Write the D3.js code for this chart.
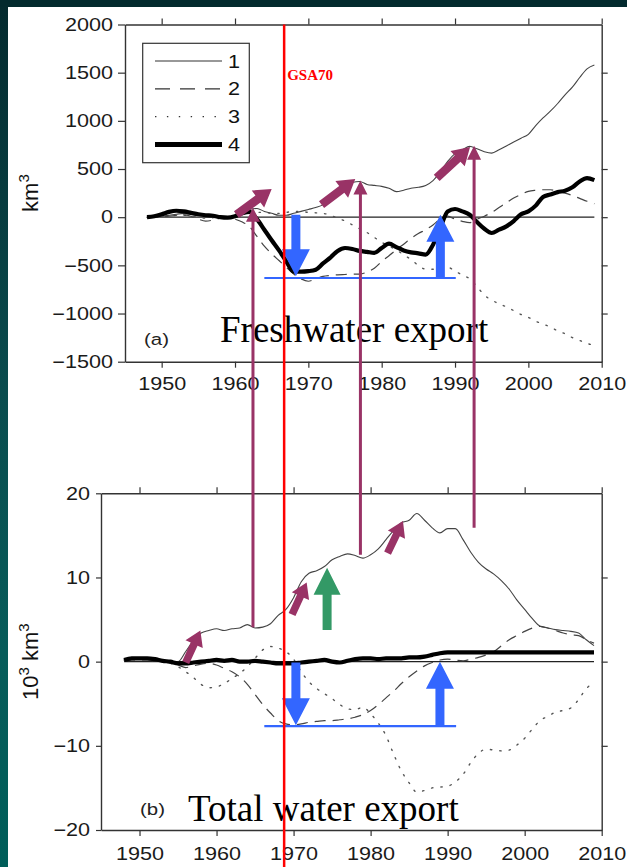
<!DOCTYPE html>
<html>
<head>
<meta charset="utf-8">
<script src="https://cdn.jsdelivr.net/npm/d3@7"></script>
<style>
html, body { margin: 0; padding: 0; background: #fff; }
svg { display: block; }
</style>
</head>
<body>
<div id="chart"></div>
<script>
// ---- data ----
const years = [1948,1949,1950,1951,1952,1953,1954,1955,1956,1957,
  1958,1959,1960,1961,1962,1963,1964,1965,1966,1967,
  1968,1969,1970,1971,1972,1973,1974,1975,1976,1977,
  1978,1979,1980,1981,1982,1983,1984,1985,1986,1987,
  1988,1989,1990,1991,1992,1993,1994,1995,1996,1997,
  1998,1999,2000,2001,2002,2003,2004,2005,2006,2007,
  2008,2009];

// (a) freshwater export, km3
const fw1 = [0,5,10,20,30,40,30,20,25,20, 10,0,0,30,80,90,60,40,20,20,
  40,60,80,100,130,200,270,320,360,370, 340,330,320,300,265,280,300,310,330,380,
  470,580,660,700,735,710,680,665,700,740, 780,820,860,950,1030,1100,1180,1270,1350,1450,
  1540,1580];
const fw2 = [0,0,5,10,20,25,10,-20,-40,-30, -10,0,-20,-50,-100,-200,-300,-380,-450,-520,
  -590,-640,-665,-640,-615,-605,-598,-595,-592,-590, -570,-530,-460,-400,-337,-280,-220,-170,-130,-80,
  -20,10,-20,-43,-57,-20,10,50,100,150, 199,235,268,280,285,285,270,250,225,195,
  165,140];
const fw3 = [0,0,5,10,20,20,10,0,-10,-5, 0,0,10,30,40,50,50,40,40,50,
  60,60,50,45,40,20,-10,-40,-80,-120, -160,-210,-260,-300,-340,-390,-440,-500,-540,-540,
  -520,-520,-560,-600,-640,-720,-810,-860,-900,-930, -970,-1010,-1040,-1080,-1110,-1140,-1180,-1210,-1250,-1280,
  -1310,-1330];
const fw4 = [0,10,30,55,67,60,45,30,20,15, 0,-5,10,40,55,-20,-130,-240,-345,-460,
  -565,-565,-560,-545,-480,-420,-350,-320,-330,-350, -360,-370,-320,-275,-310,-345,-365,-375,-388,-285,
  -110,60,85,60,26,-50,-120,-164,-130,-95, -40,30,60,120,210,235,260,275,310,370,
  405,385];

// (b) total water export, 10^3 km3
const tw1 = [0.2,0.3,0.4,0.4,0.3,0.2,0,0,1.2,2.5, 3.4,3.7,3.9,3.7,3.9,4.0,4.4,4.0,4.1,4.5,
  5.5,6.2,7.6,9.5,10.5,10.8,11.3,12.1,12.5,12.8, 12.6,12.3,12.7,13.4,14.5,15.6,16.5,16.8,17.6,16.8,
  15.9,15.3,15.8,15.8,14.5,13.0,11.8,11.0,10.4,9.6, 8.6,7.3,6.2,5.1,4.2,4.0,3.8,3.7,3.6,3.4,
  2.6,1.9];
const tw2 = [0.1,0.2,0.2,0.2,0.1,0,-0.2,-0.4,-0.7,-0.5, -0.3,-0.2,-0.4,-0.8,-1.2,-1.8,-2.7,-3.9,-5.1,-6.1,
  -7.0,-7.4,-7.5,-7.4,-7.2,-7.1,-7.0,-7.0,-6.9,-6.8, -6.6,-6.3,-5.8,-5.1,-4.3,-3.5,-2.6,-1.8,-1.1,-0.5,
  -0.1,0.2,0.3,0.2,0.1,0.3,0.5,0.8,1.2,1.9, 2.6,3.1,3.6,4.0,4.2,4.0,3.7,3.4,3.2,3.1,
  2.6,2.2];
const tw3 = [0.2,0.3,0.3,0.3,0.2,0.1,-0.2,-0.6,-1.2,-1.9, -2.7,-3.1,-3.0,-2.6,-2.0,-1.4,-0.6,0.4,1.4,1.8,
  1.6,1.2,0.3,-1.2,-2.4,-3.2,-3.8,-4.4,-5.1,-5.6, -5.7,-5.4,-6.2,-7.3,-8.8,-11.0,-13.0,-14.4,-15.5,-15.3,
  -15.0,-14.9,-14.8,-14.3,-13.4,-12.0,-10.9,-10.4,-10.5,-10.6, -10.5,-9.9,-9.1,-8.0,-7.0,-6.5,-6.0,-5.8,-5.5,-4.5,
  -3.2,-2.5];
const tw4 = [0.2,0.4,0.4,0.4,0.3,0.1,0.0,-0.2,-0.2,-0.1, 0.0,0.1,0.2,0.1,0.2,0.0,0.0,0.1,0.0,-0.1,
  -0.2,-0.2,-0.2,-0.1,0.0,0.1,0.2,0.0,-0.1,0.1, 0.3,0.4,0.4,0.3,0.4,0.4,0.4,0.5,0.5,0.6,
  0.8,1.0,1.1,1.1,1.1,1.1,1.1,1.1,1.1,1.1, 1.1,1.1,1.1,1.1,1.1,1.1,1.1,1.1,1.1,1.1,
  1.1,1.1];

const legendKeys = ["1", "2", "3", "4"];
const xTicks = [1950, 1960, 1970, 1980, 1990, 2000, 2010];
const yTicksA = [2000, 1500, 1000, 500, 0, -500, -1000, -1500];
const yRightA = [1500, 1000, 500, 0, -500, -1000];
const yTicksB = [20, 10, 0, -10, -20];
const yRightB = [10, 0, -10];

// annotations (positions in panel data units)
const gsaYear = 1966.7;
const links = [ // purple verticals: year on (a), tip on (a), foot on (b)
  {year: 1962.45, tip: 99, foot: 4.1},
  {year: 1977.1, tip: 382, foot: 12.7},
  {year: 1992.6, tip: 742, foot: 15.9}
];
const purpleA = [
  {from: [1960.2, 26], to: [1965.0, 293]},
  {from: [1971.8, 130], to: [1976.4, 396]},
  {from: [1987.5, 407], to: [1992.05, 728]}
];
const purpleB = [
  {from: [1956.0, -0.1], to: [1957.9, 3.7]},
  {from: [1969.8, 5.6], to: [1971.7, 9.4]},
  {from: [1982.2, 12.9], to: [1984.2, 16.7]}
];
const greenB = {from: [1974.35, 3.75], to: [1974.35, 11.15]};
const blueA = {down: {year: 1968.3, from: 26, to: -614}, base: {from: 1964.0, to: 1990.1, v: -631}, up: {year: 1988.0, to: 26}};
const blueB = {down: {year: 1970.3, from: -0.1, to: -7.56}, base: {from: 1966.2, to: 1991.1, v: -7.67}, up: {year: 1989.0, to: 0.0}};

// ---- layout ----
const width = 627, height = 867;
const sans = "'Liberation Sans', Arial, Helvetica, sans-serif";
const serif = "'Liberation Serif', 'Times New Roman', serif";
const stretch = 1.2; // the figure's sans text is horizontally stretched
const purple = "#993366", blue = "#3366ff", green = "#339966", red = "#ff0000";

const svg = d3.select("#chart").append("svg")
  .attr("width", width).attr("height", height)
  .style("font-family", sans);

// slide background
const grad = svg.append("defs").append("linearGradient")
  .attr("id", "side").attr("x1", 0).attr("y1", 0).attr("x2", 0).attr("y2", 1);
grad.append("stop").attr("offset", 0).attr("stop-color", "#042a2e");
grad.append("stop").attr("offset", 0.45).attr("stop-color", "#0a4c4e");
grad.append("stop").attr("offset", 0.75).attr("stop-color", "#075c5a");
grad.append("stop").attr("offset", 1).attr("stop-color", "#005e5a");
svg.append("rect").attr("width", width).attr("height", height).attr("fill", "url(#side)");
svg.append("rect").attr("width", width).attr("height", 7).attr("fill", "#032a2e");
svg.append("rect").attr("x", 8).attr("y", 7).attr("width", width - 8).attr("height", height - 7).attr("fill", "#fff");

// scales
const xA = d3.scaleLinear().domain([1945, 2010]).range([125, 601.7]);
const yA = d3.scaleLinear().domain([-1500, 2000]).range([361.7, 24.5]);
const xB = d3.scaleLinear().domain([1945, 2010]).range([101, 601.7]);
const yB = d3.scaleLinear().domain([-20, 20]).range([830, 493.3]);

const styles = [
  {stroke: "#444", width: 1.1, dash: null},
  {stroke: "#444", width: 1.2, dash: "11,7"},
  {stroke: "#555", width: 1.4, dash: "1.4,8"},
  {stroke: "#000", width: 4.2, dash: null}
];

function styleAxis(g) {
  g.attr("font-size", null).attr("font-family", null);
  g.select(".domain").attr("stroke", "#333").attr("stroke-width", 1.4);
  g.selectAll(".tick line").attr("stroke", "#333").attr("stroke-width", 1.2);
  g.selectAll(".tick text").attr("fill", "#1a1a1a").style("font-size", "18px");
}

function drawPanel(x, y, series, opt) {
  const g = svg.append("g");
  const [x0, x1] = x.range();
  const [yb, yt] = y.range();

  // axes (frame)
  g.append("g").attr("transform", `translate(0,${yb})`)
    .call(d3.axisBottom(x).tickValues(xTicks).tickFormat(d3.format("d")).tickSize(6).tickSizeOuter(0))
    .call(styleAxis)
    .call(a => a.selectAll(".tick text").attr("y", opt.xLabelGap).attr("transform", `scale(${stretch},1)`));
  g.append("g").attr("transform", `translate(0,${yt})`)
    .call(d3.axisTop(x).tickValues(xTicks).tickFormat("").tickSize(6).tickSizeOuter(0))
    .call(styleAxis);
  g.append("g").attr("transform", `translate(${x0},0)`)
    .call(d3.axisLeft(y).tickValues(opt.yTicks).tickFormat(d => d < 0 ? "\u2212" + Math.abs(d) : d)
      .tickSize(opt.yTick).tickSizeOuter(0))
    .call(styleAxis)
    .call(a => a.selectAll(".tick text").attr("x", -opt.yLabelGap / stretch).attr("transform", `scale(${stretch},1)`));
  g.append("g").attr("transform", `translate(${x1},0)`)
    .call(d3.axisRight(y).tickValues(opt.yRight).tickFormat("").tickSize(6).tickSizeOuter(0))
    .call(styleAxis);

  // zero line
  g.append("line")
    .attr("x1", x(years[0])).attr("x2", x(years[years.length - 1]))
    .attr("y1", y(0)).attr("y2", y(0))
    .attr("stroke", "#222").attr("stroke-width", 1.2);

  const line = d3.line().x((d, i) => x(years[i])).y(d => y(d)).curve(d3.curveMonotoneX);
  [2, 1, 0, 3].forEach(k => {
    g.append("path")
      .attr("d", line(series[k]))
      .attr("fill", "none")
      .attr("stroke", styles[k].stroke)
      .attr("stroke-width", styles[k].width)
      .attr("stroke-dasharray", styles[k].dash)
      .attr("stroke-linejoin", "round")
      .attr("stroke-linecap", k === 2 ? "round" : "butt");
  });

  // panel letter
  g.append("text")
    .attr("transform", `translate(${x0 + opt.letterDx},${yb - opt.letterDy}) scale(${stretch},1)`)
    .attr("fill", "#222").style("font-size", "17px")
    .text(opt.letter);

  // title
  g.append("text")
    .attr("x", x0 + opt.titleDx).attr("y", yb - opt.titleDy)
    .style("font-family", serif).style("font-size", "37px").attr("fill", "#000")
    .text(opt.title);

  // y label
  const lab = g.append("text")
    .attr("transform", `translate(38,${(yt + yb) / 2}) rotate(-90)`)
    .attr("text-anchor", "middle").attr("fill", "#111").style("font-size", "22px");
  opt.yLabel.forEach(p => {
    lab.append("tspan").attr("dy", p.sup ? -9 : (p.after ? 9 : 0))
      .style("font-size", p.sup ? "15px" : "22px").text(p.t);
  });
  return g;
}

drawPanel(xA, yA, [fw1, fw2, fw3, fw4], {
  yTicks: yTicksA, yRight: yRightA, yTick: 7, yLabelGap: 12, xLabelGap: 16,
  letter: "(a)", letterDx: 19, letterDy: 17,
  title: "Freshwater export", titleDx: 95, titleDy: 20,
  yLabel: [{t: "km"}, {t: "3", sup: true}]
});
drawPanel(xB, yB, [tw1, tw2, tw3, tw4], {
  yTicks: yTicksB, yRight: yRightB, yTick: 5, yLabelGap: 11, xLabelGap: 17,
  letter: "(b)", letterDx: 39, letterDy: 15,
  title: "Total water export", titleDx: 87, titleDy: 9,
  yLabel: [{t: "10"}, {t: "3", sup: true}, {t: " km", after: true}, {t: "3", sup: true}]
});

// legend
const leg = svg.append("g").attr("transform", `translate(${xA.range()[0] + 17.7},${yA.range()[1] + 18.8})`);
leg.append("rect").attr("width", 106.6).attr("height", 119.4)
  .attr("fill", "#fff").attr("stroke", "#333").attr("stroke-width", 1.2);
legendKeys.forEach((k, i) => {
  const yy = 17.7 + i * 27.8;
  leg.append("line").attr("x1", 12.3).attr("x2", 79.3).attr("y1", yy).attr("y2", yy)
    .attr("stroke", i === 3 ? "#000" : "#333")
    .attr("stroke-width", i === 3 ? 5 : 1.2)
    .attr("stroke-dasharray", i === 1 ? "15,10" : (i === 2 ? "1.4,10.5" : null));
  leg.append("text").attr("transform", `translate(${85.3},${yy + 6.5}) scale(${stretch},1)`)
    .style("font-size", "18px").attr("fill", "#111").text(k);
});

// ---- annotations ----
function blockArrow(x1, y1, x2, y2, shaft, headW, headL) {
  const dx = x2 - x1, dy = y2 - y1, len = Math.hypot(dx, dy);
  const ux = dx / len, uy = dy / len, px = -uy, py = ux;
  const bx = x2 - ux * headL, by = y2 - uy * headL;
  const pts = [
    [x1 + px * shaft / 2, y1 + py * shaft / 2],
    [bx + px * shaft / 2, by + py * shaft / 2],
    [bx + px * headW / 2, by + py * headW / 2],
    [x2, y2],
    [bx - px * headW / 2, by - py * headW / 2],
    [bx - px * shaft / 2, by - py * shaft / 2],
    [x1 - px * shaft / 2, y1 - py * shaft / 2]
  ];
  return "M" + pts.map(p => p.map(v => v.toFixed(2)).join(",")).join("L") + "Z";
}
const ann = svg.append("g");

// blue: drop and recovery
[[xA, yA, blueA], [xB, yB, blueB]].forEach(([x, y, b]) => {
  ann.append("line")
    .attr("x1", x(b.base.from)).attr("x2", x(b.base.to))
    .attr("y1", y(b.base.v)).attr("y2", y(b.base.v))
    .attr("stroke", blue).attr("stroke-width", 2.2);
  ann.append("path").attr("fill", blue)
    .attr("d", blockArrow(x(b.down.year), y(b.down.from), x(b.down.year), y(b.down.to), 9, 28, 27));
  ann.append("path").attr("fill", blue)
    .attr("d", blockArrow(x(b.up.year), y(b.base.v), x(b.up.year), y(b.up.to), 9, 28, 27));
});

// green
ann.append("path").attr("fill", green)
  .attr("d", blockArrow(xB(greenB.from[0]), yB(greenB.from[1]), xB(greenB.to[0]), yB(greenB.to[1]), 9, 27, 27));

// purple block arrows
purpleA.forEach(a => {
  ann.append("path").attr("fill", purple)
    .attr("d", blockArrow(xA(a.from[0]), yA(a.from[1]), xA(a.to[0]), yA(a.to[1]), 8.5, 21, 17));
});
purpleB.forEach(a => {
  ann.append("path").attr("fill", purple)
    .attr("d", blockArrow(xB(a.from[0]), yB(a.from[1]), xB(a.to[0]), yB(a.to[1]), 7.5, 19, 15));
});

// purple verticals linking the panels
links.forEach(l => {
  ann.append("path").attr("fill", purple)
    .attr("d", blockArrow(xA(l.year), yB(l.foot), xA(l.year), yA(l.tip), 3, 14, 14));
});

// GSA70 line
ann.append("line")
  .attr("x1", xA(gsaYear)).attr("x2", xA(gsaYear))
  .attr("y1", yA(2000)).attr("y2", height)
  .attr("stroke", red).attr("stroke-width", 2.5);
ann.append("text")
  .attr("x", xA(gsaYear) + 3).attr("y", yA(1420))
  .style("font-family", serif).style("font-weight", "bold").style("font-size", "15px")
  .attr("fill", red).text("GSA70");
</script>
</body>
</html>
